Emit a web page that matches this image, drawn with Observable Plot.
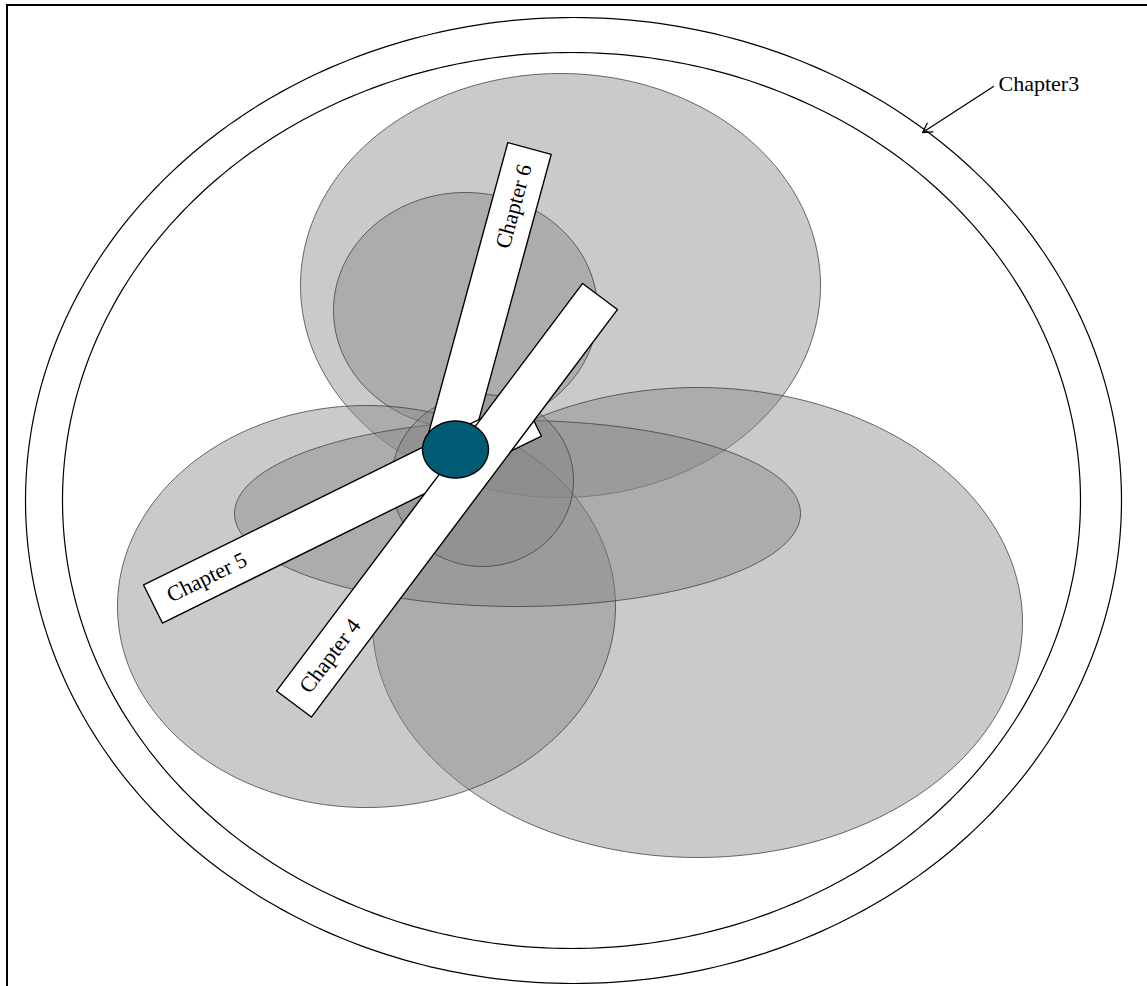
<!DOCTYPE html>
<html>
<head>
<meta charset="utf-8">
<script src="https://cdn.jsdelivr.net/npm/d3@7"></script>
<script src="https://cdn.jsdelivr.net/npm/@observablehq/plot@0.6"></script>
<style>
  html, body { margin: 0; padding: 0; background: white; }
  svg { display: block; }
</style>
</head>
<body>
<div id="chart"></div>
<script>
// Outer boundary ellipses (Chapter 3)
const outerIds = ["outer", "inner"];
const outerCx = [573, 571];
const outerCy = [500, 500];
const outerRx = [548, 509];
const outerRy = [483, 448];

// Gray overlapping ellipses
const blobIds = ["top", "topSmall", "rightBig", "left", "flat", "center"];
const blobCx = [560, 465, 697, 366, 517, 482];
const blobCy = [285, 310, 622, 606, 513, 480];
const blobRx = [260, 132, 325, 249, 283, 91];
const blobRy = [212, 118, 235, 201, 93, 86];

// Hub
const hubCx = [455];
const hubCy = [449];
const hubRx = [33];
const hubRy = [28.5];

// Bars (outer label end -> inner end), drawn in this order
const barLabels = ["Chapter 6", "Chapter 5", "Chapter 4"];
const barX1 = [529, 152.5, 293.5];
const barY1 = [148, 603.5, 703.5];
const barX2 = [447.5, 531.5, 599.5];
const barY2 = [447, 416.5, 296];
const barWidth = [45, 42.5, 43.5];
const labelOffset = [60, 60, 60];

// Chapter 3 callout
const calloutText = ["Chapter3"];
const calloutX = [998];
const calloutY = [83];
const arrowFrom = [[993, 86]];
const arrowTo = [[922, 132]];

function ellipsePts(id, cx, cy, rx, ry) {
  return d3.range(0, 360, 1).map(a => ({
    id,
    x: cx + rx * Math.cos(a * Math.PI / 180),
    y: cy + ry * Math.sin(a * Math.PI / 180)
  }));
}

const outerPts = outerIds.flatMap((id, i) => ellipsePts(id, outerCx[i], outerCy[i], outerRx[i], outerRy[i]));
const blobSets = blobIds.map((id, i) => ellipsePts(id, blobCx[i], blobCy[i], blobRx[i], blobRy[i]));
const hubPts = ellipsePts("hub", hubCx[0], hubCy[0], hubRx[0], hubRy[0]);

const bars = barLabels.map((label, i) => {
  const dx = barX2[i] - barX1[i], dy = barY2[i] - barY1[i];
  const len = Math.hypot(dx, dy);
  const ux = dx / len, uy = dy / len;
  const nx = -uy * barWidth[i] / 2, ny = ux * barWidth[i] / 2;
  const pts = [
    {id: label, x: barX1[i] + nx, y: barY1[i] + ny},
    {id: label, x: barX2[i] + nx, y: barY2[i] + ny},
    {id: label, x: barX2[i] - nx, y: barY2[i] - ny},
    {id: label, x: barX1[i] - nx, y: barY1[i] - ny}
  ];
  // text reads from outer end toward center or upward
  let ang = Math.atan2(uy, ux) * 180 / Math.PI;
  if (ang > 90) ang -= 180;
  if (ang < -90) ang += 180;
  const label0 = {
    text: label,
    x: barX1[i] + ux * labelOffset[i],
    y: barY1[i] + uy * labelOffset[i],
    rotate: ang
  };
  return {pts, label: label0};
});

const marks = [
  Plot.rect([{}], {x1: 7, y1: 5, x2: 1300, y2: 1100, fill: "white", stroke: "black", strokeWidth: 2}),
  Plot.line(outerPts, {x: "x", y: "y", z: "id", curve: "linear-closed", stroke: "black", strokeWidth: 1.2, fill: "none"}),
  ...blobSets.map(pts => Plot.line(pts, {x: "x", y: "y", curve: "linear-closed", fill: "#868686", fillOpacity: 0.44, stroke: "#3a3a3a", strokeOpacity: 0.75, strokeWidth: 1})),
  ...bars.map(b => Plot.line(b.pts, {x: "x", y: "y", curve: "linear-closed", fill: "white", stroke: "black", strokeWidth: 1.4})),
  Plot.line(hubPts, {x: "x", y: "y", curve: "linear-closed", fill: "#005c75", stroke: "black", strokeWidth: 1.4}),
  Plot.text(bars.map(b => b.label), {x: "x", y: "y", text: "text", rotate: "rotate", fontSize: 22, fontFamily: "Liberation Serif", fill: "black", textAnchor: "middle"}),
  Plot.arrow([0], {x1: () => arrowFrom[0][0], y1: () => arrowFrom[0][1], x2: () => arrowTo[0][0], y2: () => arrowTo[0][1], stroke: "black", strokeWidth: 1.3, headLength: 12}),
  Plot.text(calloutText, {x: () => calloutX[0], y: () => calloutY[0], text: d => d, textAnchor: "start", fontSize: 22, fontFamily: "Liberation Serif", fill: "black"})
];

const chart = Plot.plot({
  width: 1147,
  height: 986,
  margin: 0,
  x: {type: "linear", domain: [0, 1147], range: [0, 1147], axis: null},
  y: {type: "linear", domain: [0, 986], range: [0, 986], axis: null},
  style: {background: "white", overflow: "hidden"},
  marks
});
document.getElementById("chart").appendChild(chart);
</script>
</body>
</html>
